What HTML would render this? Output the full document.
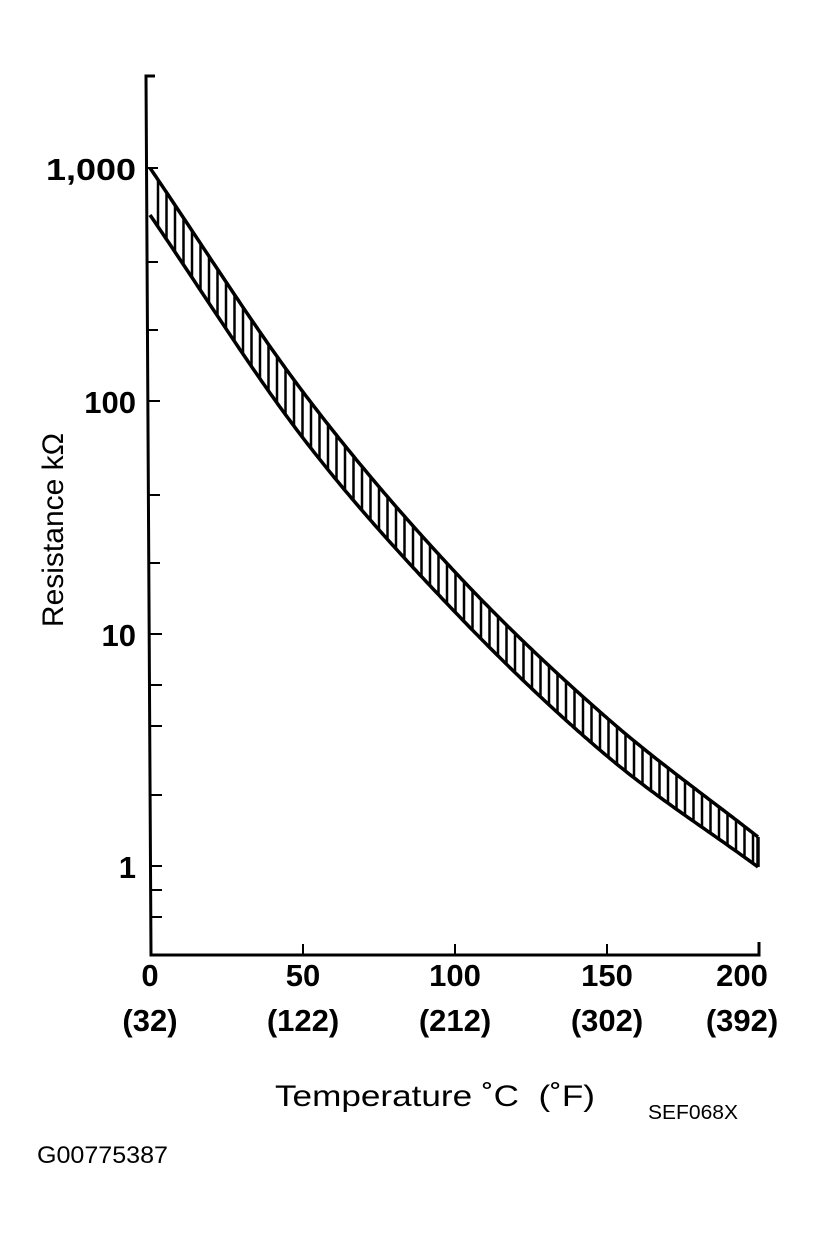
<!DOCTYPE html>
<html><head><style>
body{margin:0;background:#fff;width:819px;height:1238px;overflow:hidden}
text{font-family:"Liberation Sans",Arial,sans-serif;fill:#000}
</style></head><body>
<svg id="s" width="819" height="1238" viewBox="0 0 819 1238" xmlns="http://www.w3.org/2000/svg">
<g stroke="#000" stroke-width="3" fill="none">
<polyline points="155,76 146,76 151,955 759,955 759,942"/>
<g stroke-width="2">
<line x1="147" y1="168" x2="158" y2="168"/>
<line x1="147" y1="262" x2="158" y2="262"/>
<line x1="148" y1="330" x2="158" y2="330"/>
<line x1="148" y1="401" x2="160" y2="401"/>
<line x1="149" y1="495" x2="160" y2="495"/>
<line x1="149" y1="563" x2="160" y2="563"/>
<line x1="149" y1="634" x2="162" y2="634"/>
<line x1="150" y1="685" x2="162" y2="685"/>
<line x1="150" y1="726" x2="162" y2="726"/>
<line x1="150" y1="795" x2="162" y2="795"/>
<line x1="150" y1="866" x2="162" y2="866"/>
<line x1="151" y1="890" x2="162" y2="890"/>
<line x1="151" y1="917" x2="162" y2="917"/>
<line x1="303" y1="955" x2="303" y2="944"/>
<line x1="455" y1="955" x2="455" y2="944"/>
<line x1="607" y1="955" x2="607" y2="944"/>
</g>
<g id="band" stroke-width="3.5"></g>
<g id="hatch" stroke-width="2.5"></g>
</g>
<g font-weight="bold" font-size="31">
<text x="136" y="180" text-anchor="end" textLength="90" lengthAdjust="spacingAndGlyphs">1,000</text>
<text x="136" y="413" text-anchor="end">100</text>
<text x="136" y="646" text-anchor="end">10</text>
<text x="136" y="878" text-anchor="end">1</text>
<text x="150" y="986" text-anchor="middle">0</text>
<text x="303" y="986" text-anchor="middle">50</text>
<text x="455" y="986" text-anchor="middle">100</text>
<text x="607" y="986" text-anchor="middle">150</text>
<text x="742" y="986" text-anchor="middle">200</text>
<text x="150" y="1031" text-anchor="middle">(32)</text>
<text x="303" y="1031" text-anchor="middle">(122)</text>
<text x="455" y="1031" text-anchor="middle">(212)</text>
<text x="607" y="1031" text-anchor="middle">(302)</text>
<text x="742" y="1031" text-anchor="middle">(392)</text>
</g>
<text x="0" y="0" font-size="30" text-anchor="middle" transform="translate(63,530) rotate(-90)">Resistance kΩ</text>
<text x="275" y="1106" font-size="30" xml:space="preserve" textLength="320" lengthAdjust="spacingAndGlyphs">Temperature ˚C  (˚F)</text>
<text x="648" y="1119" font-size="20" textLength="90" lengthAdjust="spacingAndGlyphs">SEF068X</text>
<text x="37" y="1163" font-size="24" textLength="131" lengthAdjust="spacingAndGlyphs">G00775387</text>
</svg>
<script>
var U=[[150,168],[303,392],[455,572],[607,718],[758,837]];
var L=[[150,215],[303,438],[455,612],[607,756],[758,867]];
function f(P,x){for(var i=0;i<P.length-1;i++){if(x<=P[i+1][0]){var a=P[i],b=P[i+1];var t=(x-a[0])/(b[0]-a[0]);
var m0=i>0?(b[1]-P[i-1][1])/(b[0]-P[i-1][0]):(b[1]-a[1])/(b[0]-a[0]);
var c=P[i+2]||b;var m1=i<P.length-2?(c[1]-a[1])/(c[0]-a[0]):(b[1]-a[1])/(b[0]-a[0]);
var h=b[0]-a[0];var t2=t*t,t3=t2*t;
return (2*t3-3*t2+1)*a[1]+(t3-2*t2+t)*h*m0+(-2*t3+3*t2)*b[1]+(t3-t2)*h*m1;}}return P[P.length-1][1];}
var ns="http://www.w3.org/2000/svg";
function pl(P){var s="";for(var x=150;x<=758;x+=2)s+=x+","+f(P,x).toFixed(1)+" ";var e=document.createElementNS(ns,"polyline");e.setAttribute("points",s);document.getElementById("band").appendChild(e);}
pl(U);pl(L);
var g=document.getElementById("band");
var e=document.createElementNS(ns,"line");e.setAttribute("x1",758);e.setAttribute("x2",758);e.setAttribute("y1",837);e.setAttribute("y2",867);g.appendChild(e);
var h=document.getElementById("hatch");
for(var x=158;x<758;x+=8.5){var l=document.createElementNS(ns,"line");l.setAttribute("x1",x);l.setAttribute("x2",x);l.setAttribute("y1",f(U,x));l.setAttribute("y2",f(L,x));h.appendChild(l);}
</script>
</body></html>
